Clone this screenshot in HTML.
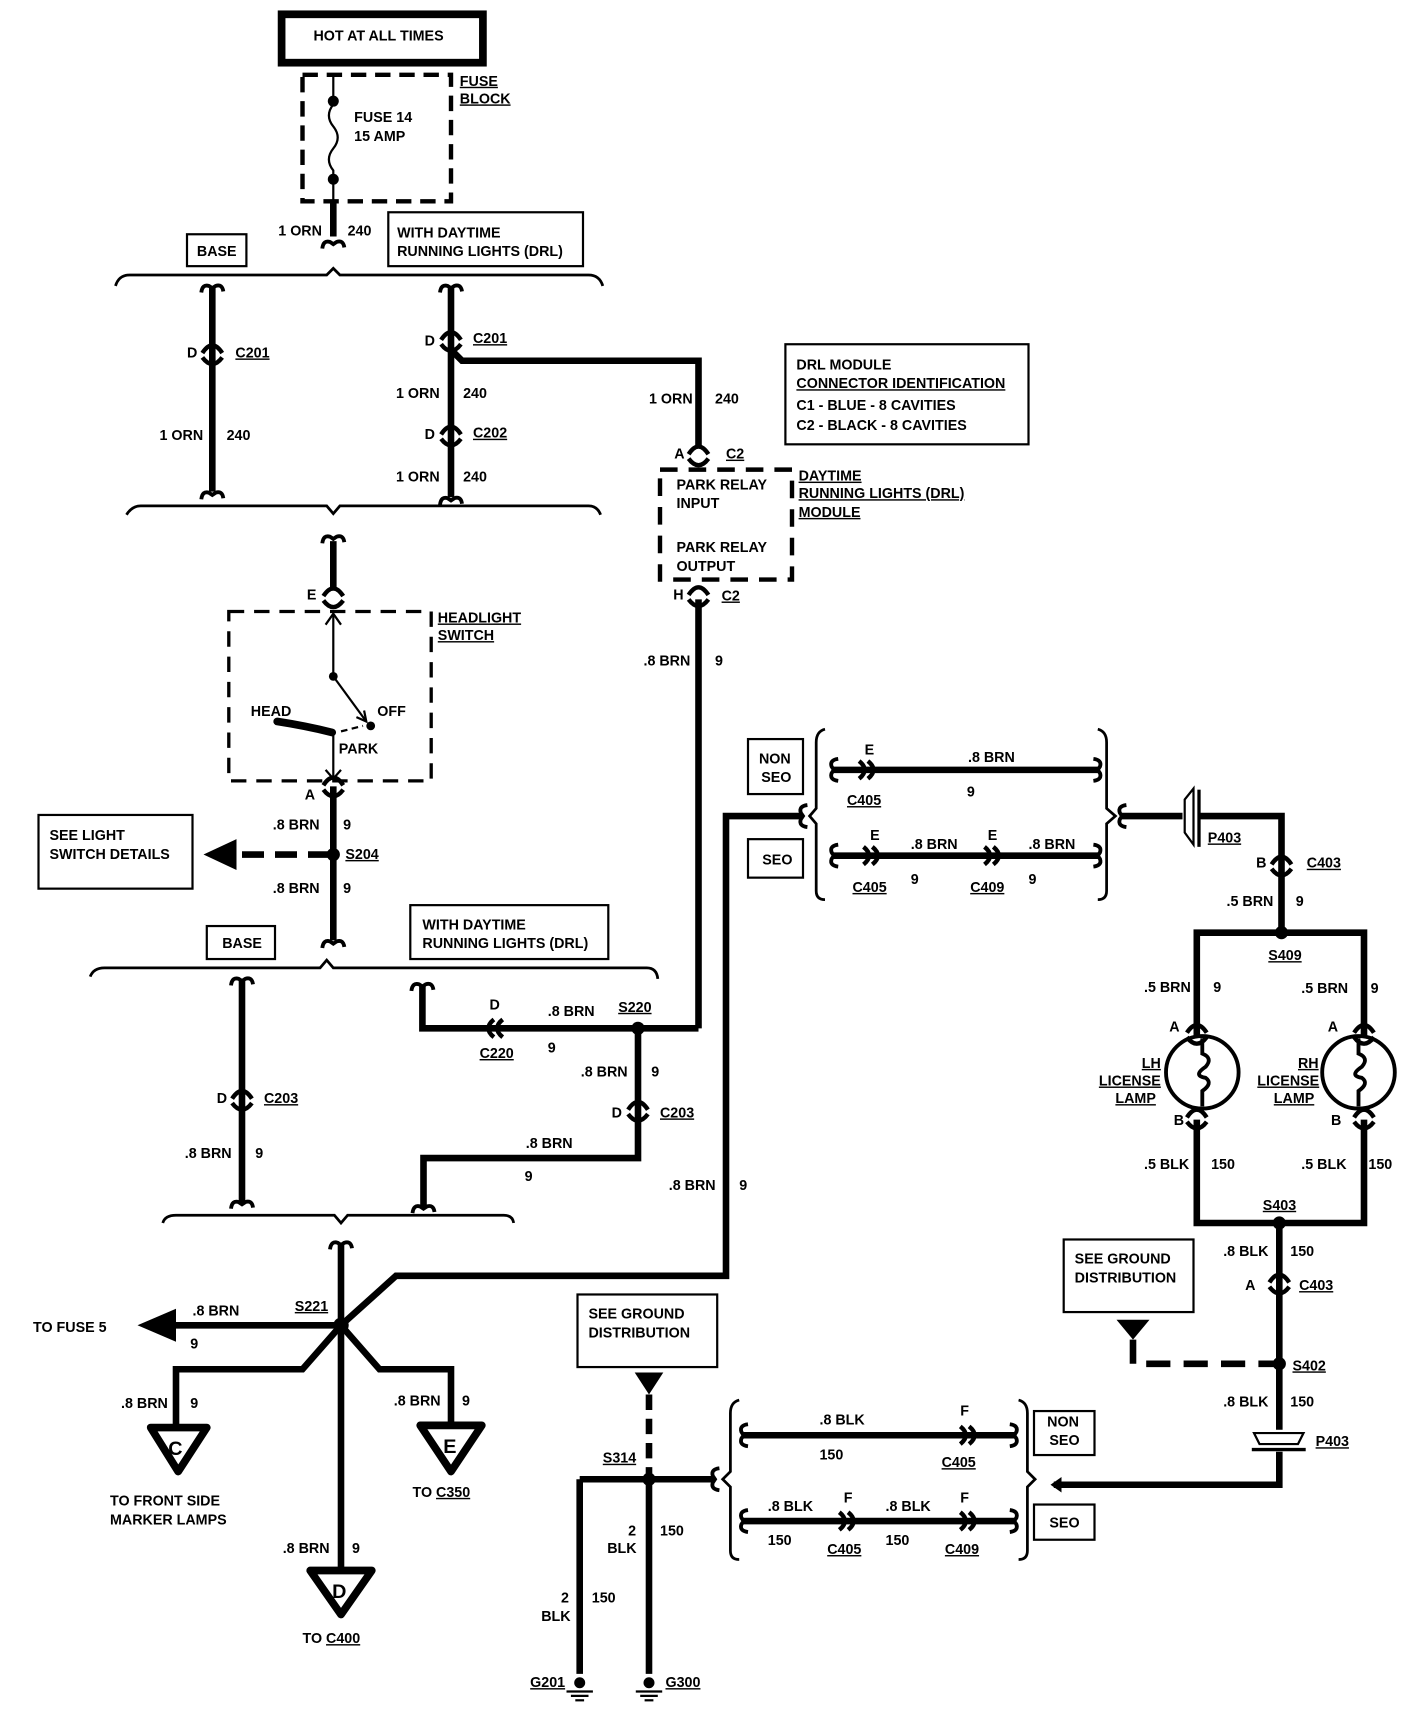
<!DOCTYPE html>
<html><head><meta charset="utf-8"><style>
html,body{margin:0;padding:0;background:#fff}
svg{display:block}
text{font-family:"Liberation Sans",sans-serif;font-size:13px;font-weight:bold;fill:#000}
.u{text-decoration:underline}
</style></head><body>
<svg width="1408" height="1730" viewBox="0 0 1280 1573" preserveAspectRatio="none" xmlns="http://www.w3.org/2000/svg">
<defs>
<g id="cv" fill="none" stroke="#000" stroke-width="4"><path d="M-9,1 Q0,-13 9,1"/><path d="M-9,5 Q0,17 9,5"/></g>
<g id="ch" fill="none" stroke="#000" stroke-width="4"><path d="M-7,-8 Q3,0 -7,8"/><path d="M1,-8 Q11,0 1,8"/></g>
<g id="ev" fill="none" stroke="#000" stroke-width="3.5"><path d="M-10,4 Q-9,-4 -3,-2 L0,0 L3,-2 Q9,-4 10,3"/></g>
<g id="eh" fill="none" stroke="#000" stroke-width="3.5"><path d="M4,-10 Q-4,-9 -2,-3 L0,0 L-2,3 Q-4,9 4,10"/></g>
<g id="gnd" stroke="#000" stroke-width="2"><circle cx="0" cy="0" r="4" fill="#000"/><line x1="-12" y1="8" x2="12" y2="8"/><line x1="-8" y1="12" x2="8" y2="12"/><line x1="-4" y1="16" x2="4" y2="16"/></g>
</defs>
<g fill="none" stroke="#000">
<rect x="256" y="13" width="183" height="44" stroke-width="7"/>
<rect x="275" y="68" width="135" height="115" stroke-width="4" stroke-dasharray="14,8"/>
<line x1="303" y1="68" x2="303" y2="95" stroke-width="2"/>
<path d="M303,95 Q295,105 303,115 Q311,125 303,135 Q295,145 303,155 L303,183" stroke-width="2"/>
<g stroke-width="6">
<line x1="303" y1="183" x2="303" y2="215"/>
<line x1="193" y1="262" x2="193" y2="447"/>
<line x1="410" y1="262" x2="410" y2="452"/>
<polyline points="410,318 420,328 635,328 635,405"/>
<line x1="303" y1="492" x2="303" y2="537"/>
<line x1="635" y1="545" x2="635" y2="935"/>
<line x1="303" y1="715" x2="303" y2="855"/>
<line x1="220" y1="892" x2="220" y2="1093"/>
<polyline points="384,897 384,935 635,935"/>
<polyline points="580,935 580,1053 385,1053 385,1097"/>
<line x1="310" y1="1132" x2="310" y2="1425"/>
<polyline points="310,1205 360,1160 660,1160 660,742 728,742"/>
<line x1="310" y1="1205" x2="160" y2="1205"/>
<polyline points="310,1205 275,1245 160,1245 160,1297"/>
<polyline points="310,1205 345,1245 410,1245 410,1295"/>
<line x1="758" y1="700" x2="1000" y2="700"/>
<line x1="758" y1="778" x2="1000" y2="778"/>
<polyline points="1020,742 1075,742"/>
<polyline points="1090,742 1165,742 1165,848"/>
<polyline points="1088,943 1088,848 1240,848 1240,943"/>
<polyline points="1088,1018 1088,1112 1240,1112 1240,1018"/>
<line x1="1163" y1="1112" x2="1163" y2="1300"/>
<polyline points="1163,1320 1163,1350 958,1350"/>
<line x1="676" y1="1305" x2="922" y2="1305"/>
<line x1="676" y1="1383" x2="922" y2="1383"/>
<line x1="527" y1="1345" x2="650" y2="1345"/>
<polyline points="527,1345 527,1522"/>
<line x1="590" y1="1345" x2="590" y2="1522"/>
</g>
<line x1="300" y1="777" x2="215" y2="777" stroke-width="6" stroke-dasharray="20,10"/>
<polyline points="1030,1218 1030,1240 1160,1240" stroke-width="6" stroke-dasharray="22,12"/>
<line x1="590" y1="1268" x2="590" y2="1345" stroke-width="6" stroke-dasharray="14,8"/>
<g stroke-width="2.5">
<path d="M105,260 Q108,250 118,250 L297,250 L303,244 L309,250 L535,250 Q545,250 548,260"/>
<path d="M115,468 Q120,460 128,460 L297,460 L303,467 L309,460 L535,460 Q543,460 546,468"/>
<path d="M82,888 Q85,880 95,880 L291,880 L297,873 L303,880 L588,880 Q597,880 598,890"/>
<path d="M148,1112 Q150,1105 160,1105 L304,1105 L310,1112 L316,1105 L458,1105 Q466,1105 467,1112"/>
<path d="M750,663 Q742,665 742,675 L742,735 L736,742 L742,749 L742,810 Q742,818 750,818"/>
<path d="M998,663 Q1006,665 1006,675 L1006,735 L1014,742 L1006,749 L1006,810 Q1006,818 998,818"/>
<path d="M672,1273 Q664,1275 664,1285 L664,1338 L657,1345 L664,1352 L664,1410 Q664,1418 672,1418"/>
<path d="M926,1273 Q934,1275 934,1285 L934,1338 L941,1345 L934,1352 L934,1410 Q934,1418 926,1418"/>
</g>
<g stroke-width="2">
<rect x="353" y="193" width="177" height="49"/>
<rect x="170" y="213" width="54" height="29"/>
<rect x="714" y="313" width="221" height="91"/>
<rect x="35" y="741" width="140" height="67"/>
<rect x="188" y="842" width="62" height="30"/>
<rect x="373" y="823" width="180" height="49"/>
<rect x="680" y="672" width="50" height="50"/>
<rect x="680" y="763" width="50" height="35"/>
<rect x="967" y="1127" width="118" height="66"/>
<rect x="525" y="1177" width="127" height="66"/>
<rect x="940" y="1283" width="55" height="40"/>
<rect x="940" y="1368" width="55" height="32"/>
</g>
<rect x="600" y="427" width="120" height="100" stroke-width="4" stroke-dasharray="16,10"/>
<rect x="208" y="556" width="184" height="154" stroke-width="3" stroke-dasharray="14,9"/>
<g stroke-width="2">
<line x1="303" y1="558" x2="303" y2="615"/><polyline points="296,568 303,558 310,568"/>
<line x1="303" y1="615" x2="333" y2="656"/><polyline points="324,652 333,656 331,646"/>
<line x1="310" y1="665" x2="330" y2="660" stroke-dasharray="6,4"/>
<line x1="303" y1="665" x2="303" y2="708"/><polyline points="296,700 303,708 310,700"/>
</g>
<path d="M252,656 Q278,660 302,666" stroke-width="7" stroke-linecap="round"/>
<g stroke-width="3.5">
<circle cx="1093" cy="975" r="33"/><circle cx="1235" cy="975" r="33"/>
<path d="M1093,944 L1093,958 Q1103,962 1096,970 Q1084,978 1096,980 Q1103,985 1093,992 L1093,1006"/>
<path d="M1235,944 L1235,958 Q1245,962 1238,970 Q1226,978 1238,980 Q1245,985 1235,992 L1235,1006"/>
</g>
<path d="M1077,727 L1077,757 L1085,768 L1085,717 Z" stroke-width="2" fill="#fff"/>
<line x1="1090" y1="718" x2="1090" y2="770" stroke-width="3"/>
<path d="M1140,1303 L1185,1303 L1180,1313 L1145,1313 Z" stroke-width="2" fill="#fff"/>
<line x1="1138" y1="1318" x2="1187" y2="1318" stroke-width="3"/>
<g stroke-width="7" stroke-linejoin="round"><path d="M137,1298 L188,1298 L162,1338 Z"/><path d="M382,1296 L438,1296 L410,1338 Z"/><path d="M282,1428 L338,1428 L310,1468 Z"/></g>
</g>
<g fill="#000">
<circle cx="303" cy="92" r="5"/><circle cx="303" cy="163" r="5"/>
<circle cx="303" cy="615" r="4"/><circle cx="337" cy="660" r="4"/>
<circle cx="303" cy="777" r="6"/><circle cx="580" cy="935" r="6"/>
<circle cx="310" cy="1205" r="7"/><circle cx="1165" cy="848" r="6"/>
<circle cx="1163" cy="1112" r="6"/><circle cx="1163" cy="1240" r="6"/>
<circle cx="590" cy="1345" r="6"/>
<path d="M185,777 L215,763 L215,791 Z"/>
<path d="M125,1205 L160,1190 L160,1220 Z"/>
<path d="M1015,1200 L1045,1200 L1030,1218 Z"/>
<path d="M577,1248 L603,1248 L590,1268 Z"/>
<path d="M955,1350 L965,1343 L965,1357 Z"/>
</g>
<use href="#cv" x="193" y="320"/><use href="#cv" x="410" y="308"/><use href="#cv" x="410" y="394"/>
<use href="#cv" x="635" y="412"/><use href="#cv" x="635" y="540"/><use href="#cv" x="303" y="541"/>
<use href="#cv" x="303" y="713"/><use href="#cv" x="220" y="998"/><use href="#cv" x="580" y="1008"/>
<use href="#cv" x="1165" y="785"/><use href="#cv" x="1088" y="938"/><use href="#cv" x="1240" y="938"/>
<use href="#cv" x="1088" y="1015"/><use href="#cv" x="1240" y="1015"/><use href="#cv" x="1163" y="1165"/>
<use href="#ev" x="303" y="222"/><use href="#ev" x="193" y="262"/><use href="#ev" x="410" y="262"/>
<use href="#ev" x="193" y="450"/><use href="#ev" x="410" y="455"/><use href="#ev" x="303" y="490"/>
<use href="#ev" x="303" y="858"/><use href="#ev" x="220" y="892"/><use href="#ev" x="384" y="897"/>
<use href="#ev" x="220" y="1095"/><use href="#ev" x="385" y="1099"/><use href="#ev" x="310" y="1132"/>
<use href="#ch" x="788" y="700"/><use href="#ch" x="792" y="778"/><use href="#ch" x="902" y="778"/>
<use href="#ch" x="880" y="1305"/><use href="#ch" x="770" y="1383"/><use href="#ch" x="880" y="1383"/>
<g transform="translate(450,935) scale(-1,1)"><use href="#ch"/></g>
<use href="#eh" x="758" y="700"/><use href="#eh" x="758" y="778"/><use href="#eh" x="1020" y="742"/><use href="#eh" x="730" y="742"/>
<use href="#eh" x="676" y="1305"/><use href="#eh" x="676" y="1383"/><use href="#eh" x="650" y="1345"/>
<g transform="translate(998,700) scale(-1,1)"><use href="#eh"/></g>
<g transform="translate(998,778) scale(-1,1)"><use href="#eh"/></g>
<g transform="translate(922,1305) scale(-1,1)"><use href="#eh"/></g>
<g transform="translate(922,1383) scale(-1,1)"><use href="#eh"/></g>
<use href="#gnd" x="527" y="1530"/><use href="#gnd" x="590" y="1530"/>
<text x="285" y="37">HOT AT ALL TIMES</text>
<text x="418" y="78" class="u">FUSE</text><text x="418" y="94" class="u">BLOCK</text>
<text x="322" y="111">FUSE 14</text><text x="322" y="128">15 AMP</text>
<text x="253" y="214">1 ORN</text><text x="316" y="214">240</text>
<text x="361" y="216">WITH DAYTIME</text><text x="361" y="233">RUNNING LIGHTS (DRL)</text>
<text x="179" y="233">BASE</text>
<text x="170" y="325">D</text><text x="214" y="325" class="u">C201</text>
<text x="145" y="400">1 ORN</text><text x="206" y="400">240</text>
<text x="386" y="314">D</text><text x="430" y="312" class="u">C201</text>
<text x="360" y="362">1 ORN</text><text x="421" y="362">240</text>
<text x="386" y="399">D</text><text x="430" y="398" class="u">C202</text>
<text x="360" y="438">1 ORN</text><text x="421" y="438">240</text>
<text x="590" y="367">1 ORN</text><text x="650" y="367">240</text>
<text x="724" y="336">DRL MODULE</text><text x="724" y="353" class="u">CONNECTOR IDENTIFICATION</text>
<text x="724" y="373">C1  -  BLUE       -  8 CAVITIES</text><text x="724" y="391">C2  -  BLACK     -  8 CAVITIES</text>
<text x="613" y="417">A</text><text x="660" y="417" class="u">C2</text>
<text x="615" y="445">PARK RELAY</text><text x="615" y="462">INPUT</text>
<text x="615" y="502">PARK RELAY</text><text x="615" y="519">OUTPUT</text>
<text x="726" y="437" class="u">DAYTIME</text><text x="726" y="453" class="u">RUNNING LIGHTS (DRL)</text><text x="726" y="470" class="u">MODULE</text>
<text x="612" y="545">H</text><text x="656" y="546" class="u">C2</text>
<text x="585" y="605">.8 BRN</text><text x="650" y="605">9</text>
<text x="279" y="545">E</text>
<text x="398" y="566" class="u">HEADLIGHT</text><text x="398" y="582" class="u">SWITCH</text>
<text x="228" y="651">HEAD</text><text x="343" y="651">OFF</text><text x="308" y="685">PARK</text>
<text x="277" y="727">A</text>
<text x="248" y="754">.8 BRN</text><text x="312" y="754">9</text>
<text x="314" y="781" class="u">S204</text>
<text x="248" y="812">.8 BRN</text><text x="312" y="812">9</text>
<text x="45" y="764">SEE LIGHT</text><text x="45" y="781">SWITCH DETAILS</text>
<text x="202" y="862">BASE</text>
<text x="384" y="845">WITH DAYTIME</text><text x="384" y="862">RUNNING LIGHTS (DRL)</text>
<text x="445" y="918">D</text><text x="498" y="924">.8 BRN</text><text x="498" y="957">9</text>
<text x="562" y="920" class="u">S220</text><text x="436" y="962" class="u">C220</text>
<text x="528" y="979">.8 BRN</text><text x="592" y="979">9</text>
<text x="556" y="1016">D</text><text x="600" y="1016" class="u">C203</text>
<text x="197" y="1003">D</text><text x="240" y="1003" class="u">C203</text>
<text x="168" y="1053">.8 BRN</text><text x="232" y="1053">9</text>
<text x="478" y="1044">.8 BRN</text><text x="477" y="1074">9</text>
<text x="608" y="1082">.8 BRN</text><text x="672" y="1082">9</text>
<text x="268" y="1192" class="u">S221</text>
<text x="175" y="1196">.8 BRN</text><text x="173" y="1226">9</text>
<text x="30" y="1211">TO FUSE 5</text>
<text x="110" y="1280">.8 BRN</text><text x="173" y="1280">9</text>
<text x="358" y="1278">.8 BRN</text><text x="420" y="1278">9</text>
<text x="153" y="1323" style="font-size:18px">C</text><text x="403" y="1321" style="font-size:18px">E</text><text x="302" y="1453" style="font-size:18px">D</text>
<text x="100" y="1369">TO FRONT SIDE</text><text x="100" y="1386">MARKER LAMPS</text>
<text x="375" y="1361">TO <tspan class="u">C350</tspan></text>
<text x="257" y="1412">.8 BRN</text><text x="320" y="1412">9</text>
<text x="275" y="1494">TO <tspan class="u">C400</tspan></text>
<text x="690" y="694">NON</text><text x="692" y="711">SEO</text><text x="693" y="786">SEO</text>
<text x="786" y="686">E</text><text x="880" y="693">.8 BRN</text><text x="879" y="724">9</text><text x="770" y="732" class="u">C405</text>
<text x="791" y="764">E</text><text x="828" y="772">.8 BRN</text><text x="828" y="804">9</text><text x="775" y="811" class="u">C405</text>
<text x="898" y="764">E</text><text x="935" y="772">.8 BRN</text><text x="935" y="804">9</text><text x="882" y="811" class="u">C409</text>
<text x="1098" y="766" class="u">P403</text>
<text x="1142" y="789">B</text><text x="1188" y="789" class="u">C403</text>
<text x="1115" y="824">.5 BRN</text><text x="1178" y="824">9</text>
<text x="1153" y="873" class="u">S409</text>
<text x="1040" y="902">.5 BRN</text><text x="1103" y="902">9</text>
<text x="1183" y="903">.5 BRN</text><text x="1246" y="903">9</text>
<text x="1063" y="938">A</text><text x="1207" y="938">A</text>
<text x="1038" y="971" class="u">LH</text><text x="999" y="987" class="u">LICENSE</text><text x="1014" y="1003" class="u">LAMP</text>
<text x="1180" y="971" class="u">RH</text><text x="1143" y="987" class="u">LICENSE</text><text x="1158" y="1003" class="u">LAMP</text>
<text x="1067" y="1023">B</text><text x="1210" y="1023">B</text>
<text x="1040" y="1063">.5 BLK</text><text x="1101" y="1063">150</text>
<text x="1183" y="1063">.5 BLK</text><text x="1244" y="1063">150</text>
<text x="1148" y="1100" class="u">S403</text>
<text x="1112" y="1142">.8 BLK</text><text x="1173" y="1142">150</text>
<text x="1132" y="1173">A</text><text x="1181" y="1173" class="u">C403</text>
<text x="977" y="1149">SEE GROUND</text><text x="977" y="1166">DISTRIBUTION</text>
<text x="1175" y="1246" class="u">S402</text>
<text x="1112" y="1279">.8 BLK</text><text x="1173" y="1279">150</text>
<text x="1196" y="1315" class="u">P403</text>
<text x="535" y="1199">SEE GROUND</text><text x="535" y="1216">DISTRIBUTION</text>
<text x="548" y="1330" class="u">S314</text>
<text x="952" y="1297">NON</text><text x="954" y="1314">SEO</text><text x="954" y="1389">SEO</text>
<text x="745" y="1295">.8 BLK</text><text x="745" y="1327">150</text>
<text x="873" y="1287">F</text><text x="856" y="1334" class="u">C405</text>
<text x="698" y="1374">.8 BLK</text><text x="698" y="1405">150</text>
<text x="767" y="1366">F</text><text x="752" y="1413" class="u">C405</text>
<text x="805" y="1374">.8 BLK</text><text x="805" y="1405">150</text>
<text x="873" y="1366">F</text><text x="859" y="1413" class="u">C409</text>
<text x="571" y="1396">2</text><text x="552" y="1412">BLK</text><text x="600" y="1396">150</text>
<text x="510" y="1457">2</text><text x="492" y="1474">BLK</text><text x="538" y="1457">150</text>
<text x="482" y="1534" class="u">G201</text><text x="605" y="1534" class="u">G300</text>
</svg>
</body></html>
